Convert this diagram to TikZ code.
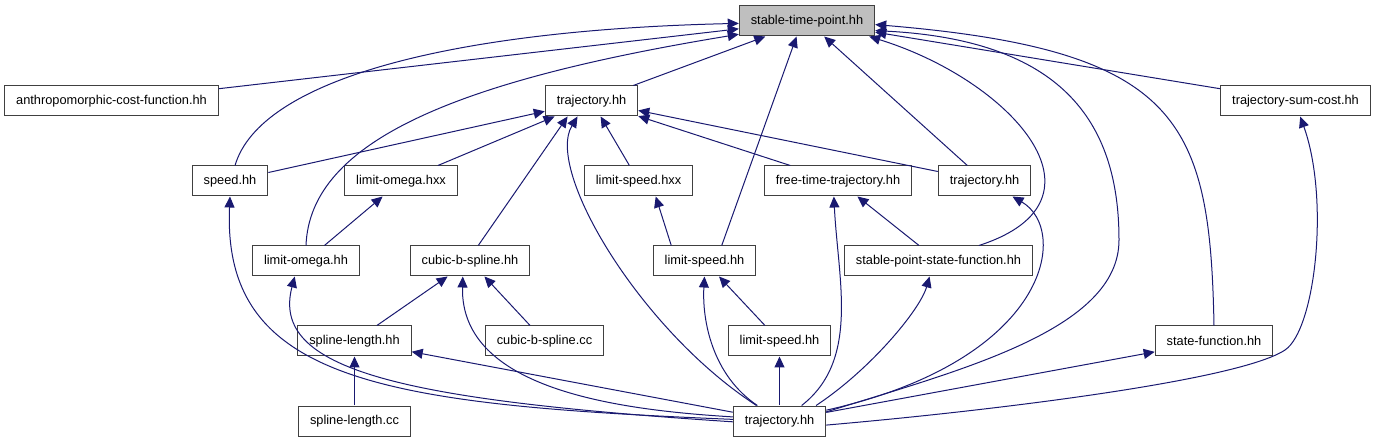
\documentclass[tikz,border=0pt]{standalone}
\usepackage{fontspec}
\setmainfont{Liberation Sans}
\usetikzlibrary{arrows.meta}
\definecolor{linkblue}{HTML}{191970}
\definecolor{boxline}{HTML}{404040}
\definecolor{rootgray}{HTML}{BFBFBF}

\begin{document}
\begin{tikzpicture}[x=1pt,y=1pt,
    file/.style={draw=boxline,fill=white,line width=1pt,minimum height=30pt,
      inner xsep=11.5pt,inner ysep=0pt,font=\fontsize{12.8}{14}\selectfont},
    inc/.style={draw=linkblue,line width=1pt,-{Triangle[length=11pt,width=10pt]}}]
\useasboundingbox (0,0) rectangle (1376,-443);
% files
\node[file,fill=rootgray] (stp) at (807,-21) {stable-time-point.hh};
\node[file] (acf) at (111.5,-101) {anthropomorphic-cost-function.hh};
\node[file] (trajtop) at (591.5,-101) {trajectory.hh};
\node[file] (tsc) at (1295.5,-101) {trajectory-sum-cost.hh};
\node[file] (speed) at (230,-181) {speed.hh};
\node[file] (omegahxx) at (401,-181) {limit-omega.hxx};
\node[file] (speedhxx) at (638.5,-181) {limit-speed.hxx};
\node[file] (freetime) at (838,-181) {free-time-trajectory.hh};
\node[file] (trajright) at (984.5,-181) {trajectory.hh};
\node[file] (omegahh) at (306,-261) {limit-omega.hh};
\node[file] (cubich) at (470,-261) {cubic-b-spline.hh};
\node[file] (speedhh) at (704.5,-261) {limit-speed.hh};
\node[file] (stablepsf) at (938.5,-261) {stable-point-state-function.hh};
\node[file] (splineh) at (354.5,-341) {spline-length.hh};
\node[file] (cubiccc) at (544.5,-341) {cubic-b-spline.cc};
\node[file] (speedhhb) at (779.5,-341) {limit-speed.hh};
\node[file] (statefn) at (1214,-341) {state-function.hh};
\node[file] (splinecc) at (354.5,-421) {spline-length.cc};
\node[file] (trajbot) at (779.5,-421) {trajectory.hh};
% into stable-time-point.hh
\draw[inc] (acf) -- (stp);
\draw[inc] (speed.72) .. controls (260,-80) and (449,-30) .. (stp.182);
\draw[inc] (omegahh.north) .. controls (310,-140) and (460,-80) .. (stp.191);
\draw[inc] (trajtop) -- (stp);
\draw[inc] (speedhh.42) -- (stp.236);
\draw[inc] (trajright) -- (stp);
\draw[inc] (stablepsf.21) .. controls (1120,-200) and (1010,-80) .. (stp.-14);
\draw[inc] (trajbot.11) .. controls (960,-370) and (1119,-330) .. (1119,-240)
  .. controls (1119,-120) and (1060,-40) .. (stp.-8);
\draw[inc] (statefn.north) .. controls (1210,-120) and (1180,-50) .. (stp.-3);
\draw[inc] (tsc) -- (stp);
% into trajectory.hh (top)
\draw[inc] (speed) -- (trajtop);
\draw[inc] (omegahxx) -- (trajtop);
\draw[inc] (cubich.62) -- (trajtop.213);
\draw[inc] (trajbot.146) .. controls (640,-330) and (545,-170) .. (trajtop.228);
\draw[inc] (speedhxx) -- (trajtop);
\draw[inc] (freetime) -- (trajtop);
\draw[inc] (trajright) -- (trajtop);
% the rest
\draw[inc] (omegahh) -- (omegahxx);
\draw[inc] (trajbot.178) .. controls (380,-405) and (222,-380) .. (speed.south);
\draw[inc] (trajbot.181) .. controls (400,-400) and (270,-370) .. (omegahh.234);
\draw[inc] (splineh) -- (cubich);
\draw[inc] (cubiccc) -- (cubich);
\draw[inc] (trajbot.175) .. controls (620,-410) and (460,-390) .. (cubich.245);
\draw[inc] (speedhh.155) -- (speedhxx.-42);
\draw[inc] (trajbot.145) .. controls (712,-375) and (702,-320) .. (speedhh.south);
\draw[inc] (speedhhb) -- (speedhh);
\draw[inc] (trajbot) -- (speedhhb);
\draw[inc] (trajbot.35) .. controls (860,-360) and (838,-280) .. (freetime.255);
\draw[inc] (stablepsf) -- (freetime);
\draw[inc] (trajbot.13) .. controls (1050,-360) and (1070,-230) .. (trajright.-29);
\draw[inc] (trajbot.23) .. controls (870,-370) and (920,-310) .. (stablepsf.240);
\draw[inc] (splinecc) -- (splineh);
\draw[inc] (trajbot) -- (splineh);
\draw[inc] (trajbot) -- (statefn);
\draw[inc] (trajbot.-5) .. controls (1000,-410) and (1240,-380) .. (1285,-350)
  .. controls (1315,-330) and (1330,-200) .. (tsc.-73);
\end{tikzpicture}
\end{document}
